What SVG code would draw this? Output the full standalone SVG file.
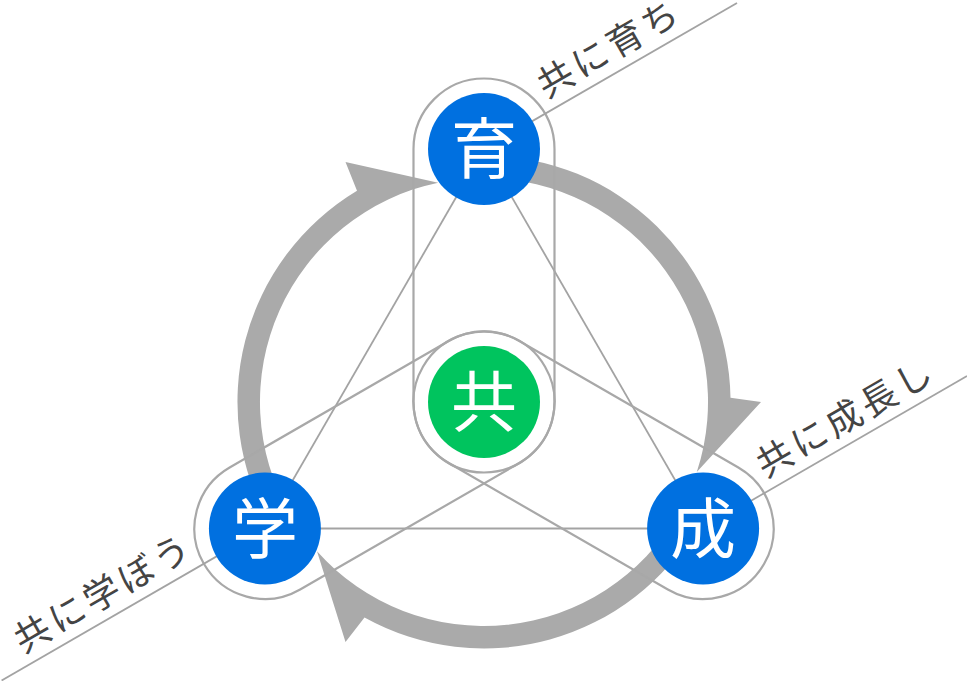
<svg xmlns="http://www.w3.org/2000/svg" width="967" height="681" viewBox="0 0 967 681">
<style>
.arrow{fill:#aaaaaa;stroke:none}
.ln{stroke:#a3a3a3;stroke-width:1.8;fill:none}
.cap{stroke:#a8a8a8;stroke-width:2.2;fill:none}
.nodeb{fill:#0070e0}
.nodeg{fill:#00c45e}
.nt{fill:#ffffff;font-family:"Noto Sans CJK JP","Noto Sans CJK SC",sans-serif;font-size:66px;text-anchor:middle}
.lbl{fill:#444444;font-family:"Noto Sans CJK JP","Noto Sans CJK SC",sans-serif;font-size:36px;letter-spacing:4px}
</style>
<rect width="967" height="681" fill="#ffffff"/>
<g id="connectors">
  <path class="arrow" d="M 484 155.5 A 246.5 246.5 0 0 1 730.5 397.7 L 761 402 L 696.8 472.0 A 224 224 0 0 0 484 178 Z"/>
  <path class="arrow" d="M 697.5 525.25 A 246.5 246.5 0 0 1 364.5 617.6 L 345.5 641.9 L 317.0 551.3 A 224 224 0 0 0 678.0 514.0 Z"/>
  <path class="arrow" d="M 270.5 525.25 A 246.5 246.5 0 0 1 357.0 190.7 L 345.5 162.1 L 438.2 182.7 A 224 224 0 0 0 290.0 514 Z"/>
  <line class="ln" x1="484" y1="149" x2="264.9" y2="528.5"/>
  <line class="ln" x1="484" y1="149" x2="703.1" y2="528.5"/>
  <line class="ln" x1="264.9" y1="528.5" x2="703.1" y2="528.5"/>
  <rect class="cap" x="413.5" y="78.5" width="141" height="394" rx="70.5"/>
  <rect class="cap" x="413.5" y="78.5" width="141" height="394" rx="70.5" transform="rotate(120 484 402)"/>
  <rect class="cap" x="413.5" y="78.5" width="141" height="394" rx="70.5" transform="rotate(240 484 402)"/>
</g>
<g id="labels">
  <line class="ln" x1="484" y1="149" x2="737" y2="3"/>
  <line class="ln" x1="703.1" y1="528.5" x2="967" y2="376"/>
  <line class="ln" x1="264.9" y1="528.5" x2="1.6" y2="680.5"/>
  <text class="lbl" transform="translate(484 149) rotate(-30)" x="79" y="-12">共に育ち</text>
  <text class="lbl" transform="translate(703.1 528.5) rotate(-30)" x="79" y="-12">共に成長し</text>
  <text class="lbl" transform="translate(264.9 528.5) rotate(-30)" x="-72" y="-12" text-anchor="end">共に学ぼう</text>
</g>
<g id="node-iku">
  <circle class="nodeb" cx="484" cy="149" r="56"/>
  <text class="nt" x="484" y="173">育</text>
</g>
<g id="node-gaku">
  <circle class="nodeb" cx="264.9" cy="528.5" r="56"/>
  <text class="nt" x="264.9" y="552.5">学</text>
</g>
<g id="node-sei">
  <circle class="nodeb" cx="703.1" cy="528.5" r="56"/>
  <text class="nt" x="703.1" y="552.5">成</text>
</g>
<g id="node-tomo">
  <circle class="nodeg" cx="484" cy="402" r="56"/>
  <text class="nt" x="484" y="426">共</text>
</g>
</svg>
